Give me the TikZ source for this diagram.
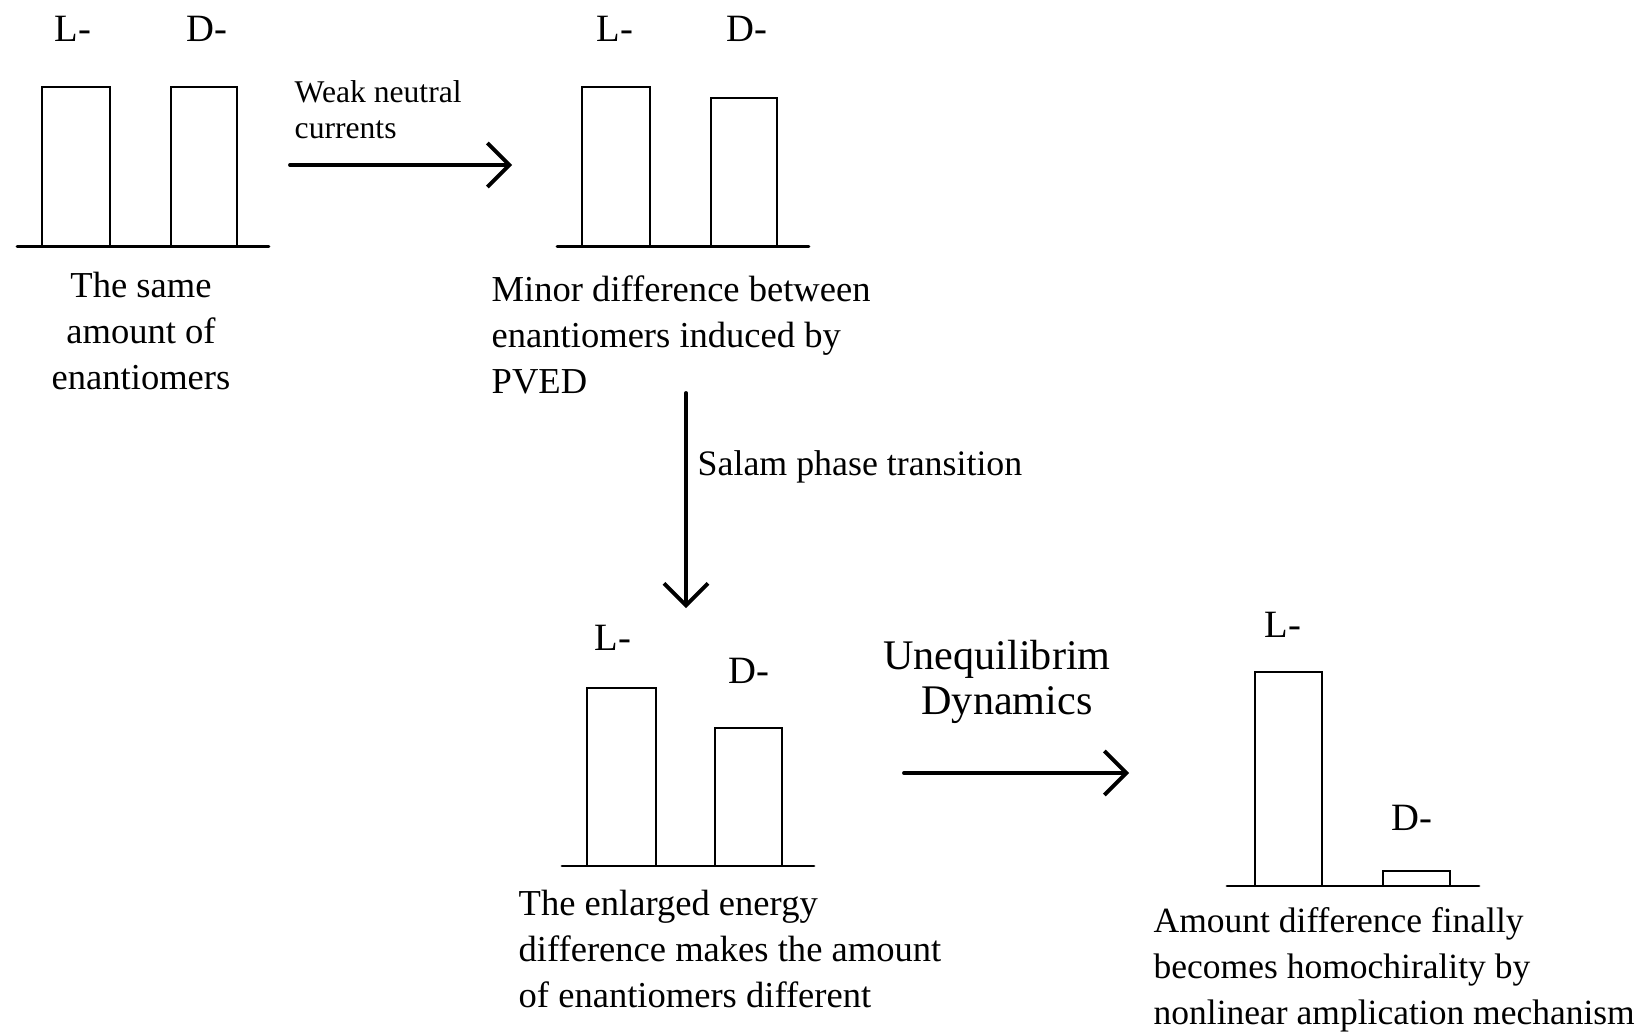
\documentclass[tikz,border=0pt]{standalone}
\usepackage{tikz, tkz-euclide}
\usetikzlibrary{arrows.meta}
\usepackage{fontspec}
\setmainfont{Liberation Serif}

\begin{document}
\begin{tikzpicture}[
    bar/.style = {draw, line width = 0.6pt},
    captxt/.style = {inner sep = 0pt, font = \fontsize{10.4}{13.1}\selectfont},
    lab/.style = {inner sep = 0pt, font = \fontsize{11}{13}\selectfont}]
    \useasboundingbox (0,0) rectangle (16.45,-10.33);
    % baselines
    \tkzDefPoints{0.17/-2.465/O1, 2.69/-2.465/E1, 5.57/-2.465/O2, 8.09/-2.465/E2}
    \tkzDefPoints{5.62/-8.66/O3, 8.14/-8.66/E3, 12.27/-8.86/O4, 14.79/-8.86/E4}
    \tkzDrawSegments[line width = 0.8pt](O1,E1 O2,E2 O3,E3 O4,E4)
    % bars
    \draw[bar] (0.42,-2.465) rectangle (1.10,-0.87);
    \draw[bar] (1.71,-2.465) rectangle (2.37,-0.87);
    \draw[bar] (5.82,-2.465) rectangle (6.50,-0.87);
    \draw[bar] (7.11,-2.465) rectangle (7.77,-0.98);
    \draw[bar] (5.87,-8.66) rectangle (6.56,-6.88);
    \draw[bar] (7.15,-8.66) rectangle (7.82,-7.28);
    \draw[bar] (12.55,-8.86) rectangle (13.22,-6.72);
    \draw[bar] (13.83,-8.86) rectangle (14.50,-8.71);
    % L- and D- labels
    \node[lab] (nL1) at (0.73,-0.29) {L-};
    \node[lab] (nD1) at (2.07,-0.29) {D-};
    \node[lab] (nL2) at (6.15,-0.29) {L-};
    \node[lab] (nD2) at (7.47,-0.29) {D-};
    \node[lab] (nL3) at (6.13,-6.38) {L-};
    \node[lab] (nD3) at (7.49,-6.71) {D-};
    \node[lab] (nL4) at (12.83,-6.25) {L-};
    \node[lab] (nD4) at (14.12,-8.18) {D-};
    % captions
    \node[captxt, anchor = north, align = center] (cap1) at (1.41,-2.71)
        {The same\\amount of\\enantiomers};
    \node[captxt, anchor = north west, align = left] (cap2) at (4.91,-2.75)
        {Minor difference between\\enantiomers induced by\\PVED};
    \node[captxt, anchor = north west, align = left] (cap3) at (5.18,-8.89)
        {The enlarged energy\\difference makes the amount\\of enantiomers different};
    \node[captxt, anchor = north west, align = left, font = \fontsize{10.1}{13.1}\selectfont]
        (cap4) at (11.53,-9.07)
        {Amount difference finally\\becomes homochirality by\\nonlinear amplication mechanism};
    % arrows
    \tkzDefPoints{2.90/-1.65/A1, 5.12/-1.65/B1, 6.86/-3.93/A2, 6.86/-6.08/B2}
    \tkzDefPoints{9.04/-7.73/A3, 11.29/-7.73/B3}
    \tkzDrawSegment[line width = 1.1pt, ->, >={Straight Barb[length = 2.2mm, width = 4.4mm]}](A1,B1)
    \tkzDrawSegment[line width = 1.1pt, ->, >={Straight Barb[length = 2.2mm, width = 4.4mm]}](A2,B2)
    \tkzDrawSegment[line width = 1.1pt, ->, >={Straight Barb[length = 2.2mm, width = 4.4mm]}](A3,B3)
    \node[inner sep = 0pt, anchor = north west, align = left,
        font = \fontsize{9}{10.3}\selectfont] (tWeak) at (2.94,-0.80)
        {Weak neutral\\currents};
    \node[captxt, anchor = west, font = \fontsize{10.2}{12}\selectfont] (tSalam) at (6.97,-4.67)
        {Salam phase transition};
    \node[inner sep = 0pt, anchor = north, align = center,
        font = \fontsize{12}{12.8}\selectfont] (tUneq) at (9.97,-6.40)
        {Unequilibrim\\\hspace*{0.2cm}Dynamics};
\end{tikzpicture}
\end{document}
